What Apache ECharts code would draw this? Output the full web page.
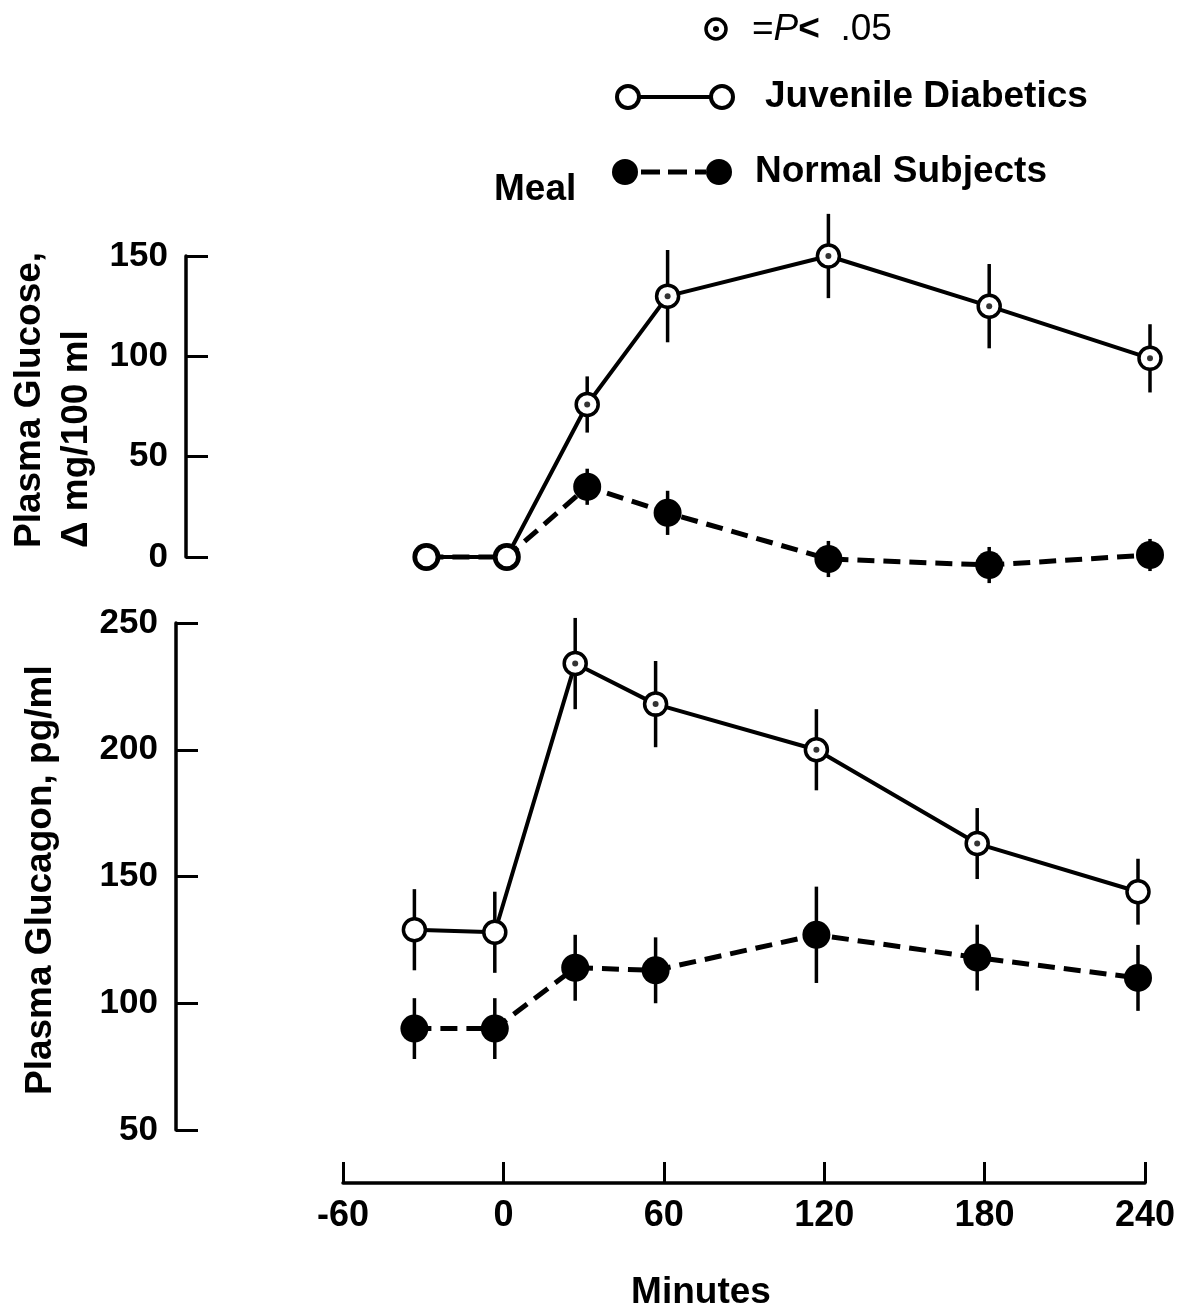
<!DOCTYPE html>
<html>
<head>
<meta charset="utf-8">
<script src="https://cdn.jsdelivr.net/npm/echarts@6/dist/echarts.min.js"></script>
<style>
html,body{margin:0;padding:0;background:#fff;}
#chart{width:1186px;height:1313px;}
</style>
</head>
<body>
<div id="chart"></div>
<script>
// ---- data ----
const minutes = [-30, 0, 30, 60, 120, 180, 240];
const glucoseDiabetic = [0, 0, 76, 130, 150, 125, 99];
const glucoseDiabeticErr = [0, 0, 14, 23, 21, 21, 17];
const glucoseDiabeticSig = [false, false, true, true, true, true, true];
const glucoseNormal = [0, 0, 35, 22, -1, -4, 1];
const glucoseNormalErr = [0, 0, 9, 11, 9, 9, 8];
const glucagonDiabetic = [129, 128, 234, 218, 200, 163, 144];
const glucagonDiabeticErr = [16, 16, 18, 17, 16, 14, 13];
const glucagonDiabeticSig = [false, false, true, true, true, true, false];
const glucagonNormal = [90, 90, 114, 113, 127, 118, 110];
const glucagonNormalErr = [12, 12, 13, 13, 19, 13, 13];
const xTicks = [-60, 0, 60, 120, 180, 240];
const glucoseTicks = [0, 50, 100, 150];
const glucagonTicks = [50, 100, 150, 200, 250];

const FF = "'Liberation Sans', Arial, Helvetica, sans-serif";
const pts = (xs, ys) => xs.map((x, i) => [x, ys[i]]);
const errPts = (xs, ys, es) => xs.map((x, i) => [x, ys[i], es[i]]);
const sigPts = (xs, ys, s) => xs.map((x, i) => [x, ys[i]]).filter((p, i) => s[i]);

function errRender(params, api) {
  const x = api.value(0), y = api.value(1), e = api.value(2);
  if (!e) return null;
  const a = api.coord([x, y - e]);
  const b = api.coord([x, y + e]);
  return {type: 'line', shape: {x1: a[0], y1: a[1], x2: b[0], y2: b[1]},
          style: {stroke: '#000', lineWidth: 3.5}};
}

function yAxisCfg(grid, min, max, offset, ticks) {
  return {
    gridIndex: grid, type: 'value', min: min, max: max, interval: 50, offset: offset,
    axisLine: {show: true, onZero: false, lineStyle: {color: '#000', width: 3.5}},
    axisTick: {show: true, inside: true, length: 22, lineStyle: {color: '#000', width: 3}},
    axisLabel: {show: true, margin: 18, fontSize: 35, fontWeight: 'bold', color: '#000', fontFamily: FF,
                formatter: v => ticks.includes(v) ? String(v) : ''},
    splitLine: {show: false}
  };
}

function openSeries(xi, yi, data) {
  return {type: 'line', xAxisIndex: xi, yAxisIndex: yi, data: data, clip: false,
    symbol: 'circle', symbolSize: 22, z: 4,
    lineStyle: {color: '#000', width: 4},
    itemStyle: {color: '#fff', borderColor: '#000', borderWidth: 3.5},
    emphasis: {disabled: true}, silent: true};
}
function filledSeries(xi, yi, data) {
  return {type: 'line', xAxisIndex: xi, yAxisIndex: yi, data: data, clip: false,
    symbol: 'circle', symbolSize: 28, z: 3,
    lineStyle: {color: '#000', width: 5, type: [17, 9]},
    itemStyle: {color: '#000', borderWidth: 0},
    emphasis: {disabled: true}, silent: true};
}
function errSeries(xi, yi, data) {
  return {type: 'custom', xAxisIndex: xi, yAxisIndex: yi, data: data, clip: false,
    renderItem: errRender, z: 2, silent: true, encode: {x: 0, y: 1}};
}
function sigSeries(xi, yi, data) {
  return {type: 'scatter', xAxisIndex: xi, yAxisIndex: yi, data: data, clip: false,
    symbol: 'circle', symbolSize: 6, z: 6, itemStyle: {color: '#000'},
    emphasis: {disabled: true}, silent: true};
}

const txt = (s, x, y, extra) => Object.assign({
  type: 'text', x: x, y: y, silent: true,
  style: {text: s, font: 'bold 37px ' + FF, fill: '#000', textAlign: 'left', textVerticalAlign: 'middle'}
}, extra || {});

const option = {
  animation: false,
  backgroundColor: '#fff',
  grid: [
    {left: 346, top: 256, width: 804, height: 301, outerBoundsMode: 'none', containLabel: false},
    {left: 334, top: 623, width: 804, height: 507, outerBoundsMode: 'none', containLabel: false},
    {left: 343, top: 1100, width: 802, height: 83, outerBoundsMode: 'none', containLabel: false}
  ],
  xAxis: [
    {gridIndex: 0, type: 'value', min: -60, max: 240, show: false},
    {gridIndex: 1, type: 'value', min: -60, max: 240, show: false},
    {gridIndex: 2, type: 'value', min: -60, max: 240, interval: 60,
     axisLine: {show: true, onZero: false, lineStyle: {color: '#000', width: 3.5}},
     axisTick: {show: true, inside: true, length: 21, lineStyle: {color: '#000', width: 3}},
     axisLabel: {margin: 15, fontSize: 36, fontWeight: 'bold', color: '#000', fontFamily: FF,
                 formatter: v => xTicks.includes(v) ? String(v) : ''},
     splitLine: {show: false}}
  ],
  yAxis: [
    yAxisCfg(0, 0, 150, 160, glucoseTicks),
    yAxisCfg(1, 50, 250, 158, glucagonTicks),
    {gridIndex: 2, type: 'value', min: 0, max: 1, show: false}
  ],
  series: [
    errSeries(0, 0, errPts(minutes, glucoseNormal, glucoseNormalErr)),
    errSeries(0, 0, errPts(minutes, glucoseDiabetic, glucoseDiabeticErr)),
    filledSeries(0, 0, pts(minutes, glucoseNormal)),
    openSeries(0, 0, pts(minutes, glucoseDiabetic)),
    sigSeries(0, 0, sigPts(minutes, glucoseDiabetic, glucoseDiabeticSig)),
    errSeries(1, 1, errPts(minutes, glucagonNormal, glucagonNormalErr)),
    errSeries(1, 1, errPts(minutes, glucagonDiabetic, glucagonDiabeticErr)),
    filledSeries(1, 1, pts(minutes, glucagonNormal)),
    openSeries(1, 1, pts(minutes, glucagonDiabetic)),
    sigSeries(1, 1, sigPts(minutes, glucagonDiabetic, glucagonDiabeticSig))
  ],
  graphic: [
    // y axis titles
    txt('Plasma Glucose,', 30, 548, {rotation: Math.PI / 2}),
    txt('\u0394 mg/100 ml', 77, 548, {rotation: Math.PI / 2}),
    txt('Plasma Glucagon, pg/ml', 41, 1095, {rotation: Math.PI / 2}),
    // x axis title
    txt('Minutes', 701, 1293, {style: {text: 'Minutes', font: 'bold 37px ' + FF, fill: '#000', textAlign: 'center', textVerticalAlign: 'middle'}}),
    // Meal
    txt('Meal', 494, 190),
    // significance key
    {type: 'circle', shape: {cx: 716, cy: 29, r: 10}, style: {fill: '#fff', stroke: '#000', lineWidth: 3.5}, silent: true},
    {type: 'circle', shape: {cx: 716, cy: 29, r: 3}, style: {fill: '#000'}, silent: true},
    {type: 'text', x: 752, y: 30, silent: true,
     style: {text: '{a|=}{b|P}{c|<}{a|  .05}', textVerticalAlign: 'middle', textAlign: 'left', fill: '#000',
             rich: {a: {font: '37px ' + FF, fill: '#000'},
                    b: {font: 'italic 37px ' + FF, fill: '#000'},
                    c: {font: 'bold 37px ' + FF, fill: '#000'}}}},
    // juvenile diabetics key
    {type: 'line', shape: {x1: 640, y1: 97, x2: 710, y2: 97}, style: {stroke: '#000', lineWidth: 4}, silent: true},
    {type: 'circle', shape: {cx: 628, cy: 97, r: 11}, style: {fill: '#fff', stroke: '#000', lineWidth: 4}, silent: true},
    {type: 'circle', shape: {cx: 722, cy: 97, r: 11}, style: {fill: '#fff', stroke: '#000', lineWidth: 4}, silent: true},
    txt('Juvenile Diabetics', 765, 97),
    // normal subjects key
    {type: 'line', shape: {x1: 641, y1: 172, x2: 706, y2: 172}, style: {stroke: '#000', lineWidth: 5, lineDash: [19, 8]}, silent: true},
    {type: 'circle', shape: {cx: 625, cy: 172, r: 13}, style: {fill: '#000'}, silent: true},
    {type: 'circle', shape: {cx: 719, cy: 172, r: 13}, style: {fill: '#000'}, silent: true},
    txt('Normal Subjects', 755, 172)
  ]
};

const chart = echarts.init(document.getElementById('chart'), null, {renderer: 'canvas'});
chart.setOption(option);
</script>
</body>
</html>
